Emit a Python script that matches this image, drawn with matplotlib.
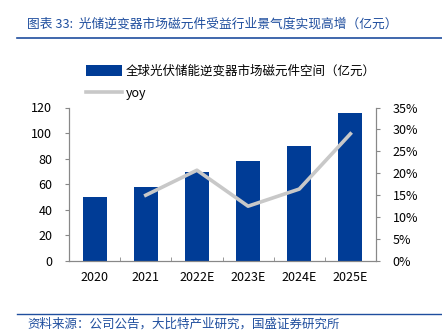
import matplotlib
matplotlib.use('Agg')
import matplotlib.pyplot as plt
from matplotlib.ticker import FuncFormatter, FixedLocator
import numpy as np

plt.rcParams['font.family'] = ['Noto Sans CJK SC', 'DejaVu Sans']

years = ['2020', '2021', '2022E', '2023E', '2024E', '2025E']
market = [50, 57.5, 69.3, 78, 90, 115.4]
yoy = [None, 15.0, 20.7, 12.5, 16.4, 29.0]

title = '图表 33:  光储逆变器市场磁元件受益行业景气度实现高增（亿元）'
source = '资料来源：公司公告，大比特产业研究，国盛证券研究所'
bar_label = '全球光伏储能逆变器市场磁元件空间（亿元）'

bar_color = '#003C96'
line_color = '#C8C8C8'
spine_color = '#888888'
blue_text = '#1F4E9E'

fig = plt.figure(figsize=(4.42, 3.35), dpi=100)
ax = fig.add_axes([69 / 442, 1 - 261 / 335, 307 / 442, 153.5 / 335])

x = np.arange(len(years))
bars = ax.bar(x, market, width=0.47, color=bar_color, label=bar_label, zorder=2)
ax.set_ylim(0, 120)
ax.set_xlim(-0.5, len(years) - 0.5)
ax.set_yticks(range(0, 121, 20))
ax.set_xticks(x)
ax.set_xticklabels(years)
ax.tick_params(axis='x', length=0, pad=7, labelsize=9)
ax.xaxis.set_minor_locator(FixedLocator(np.arange(-0.5, len(years), 1)))
ax.tick_params(axis='x', which='minor', direction='in', length=3, color=spine_color)
ax.tick_params(axis='y', length=3, color=spine_color, labelsize=9, pad=9)

ax2 = ax.twinx()
yx = [i for i, v in enumerate(yoy) if v is not None]
yv = [v for v in yoy if v is not None]
line, = ax2.plot(yx, yv, color=line_color, lw=2.6, label='yoy', zorder=3)
ax2.set_ylim(0, 35)
ax2.set_yticks(range(0, 36, 5))
ax2.yaxis.set_major_formatter(FuncFormatter(lambda v, p: f'{int(v)}%'))
ax2.tick_params(axis='y', length=3, color=spine_color, labelsize=9, pad=9)

for a in (ax, ax2):
    a.spines['top'].set_visible(False)
    for s in ('left', 'right', 'bottom'):
        a.spines[s].set_color(spine_color)
        a.spines[s].set_linewidth(0.8)

fig.legend(handles=[bars, line], labels=[bar_label, 'yoy'],
           loc='upper left', bbox_to_anchor=(81 / 442, 1 - 60 / 335),
           frameon=False, fontsize=9, handlelength=2.9, handleheight=1.0,
           labelspacing=0.75, handletextpad=0.25, borderaxespad=0)

fig.text(27 / 442, 1 - 24 / 335, title, fontsize=9.2, color=blue_text,
         style='italic', va='center', ha='left')
fig.add_artist(plt.Line2D([17 / 442, 1], [1 - 38 / 335] * 2, color=blue_text, lw=1.2))
fig.add_artist(plt.Line2D([17 / 442, 1], [1 - 314 / 335] * 2, color=blue_text, lw=1.0))
fig.text(27 / 442, 1 - 324 / 335, source, fontsize=9, color=blue_text,
         style='italic', va='center', ha='left')

fig.savefig('out.png', dpi=100)
